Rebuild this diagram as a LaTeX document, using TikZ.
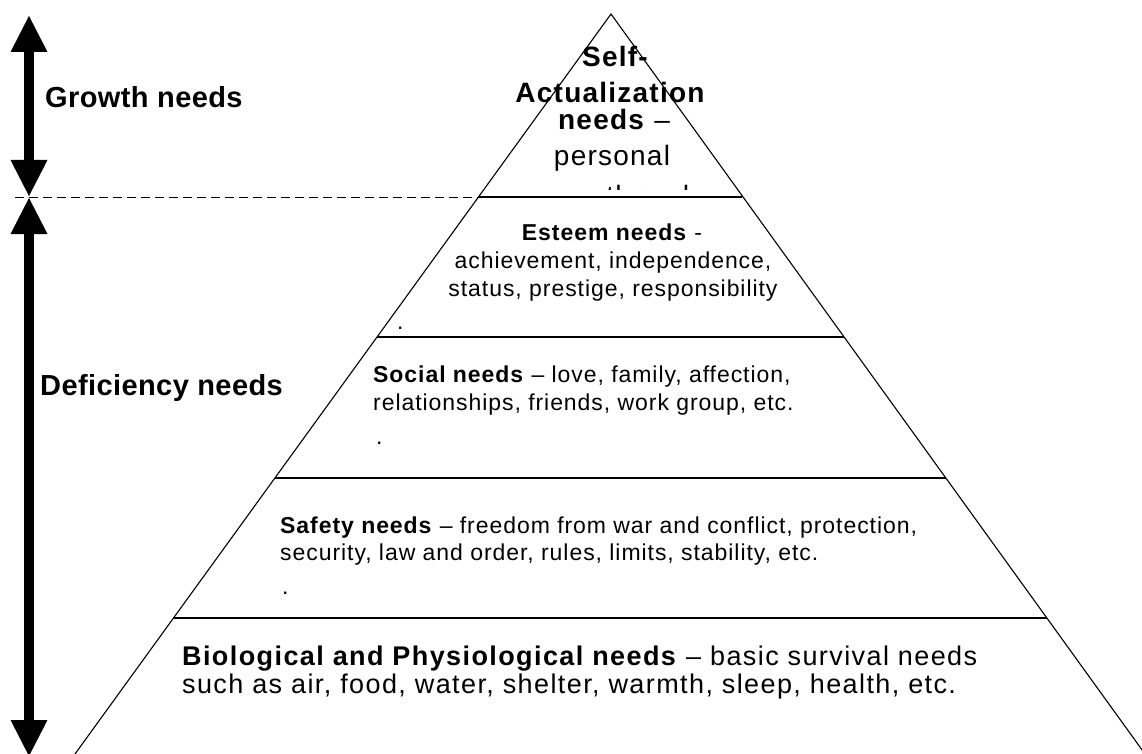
\documentclass[tikz,border=0pt]{standalone}
\usepackage{fontspec}
\setmainfont{Liberation Sans}
% tracked sans families for the different text sizes
\newfontfamily\labelfam[LetterSpace=1.4]{Liberation Sans}
\newfontfamily\topfam[LetterSpace=4.4]{Liberation Sans}
\newfontfamily\midfam[LetterSpace=4.1]{Liberation Sans}
\newfontfamily\biofam[LetterSpace=5.2]{Liberation Sans}
\usetikzlibrary{arrows.meta}
\begin{document}
\begin{tikzpicture}[x=1pt,y=-1pt,
  side/.style={line width=1.1pt, line join=miter},
  tier/.style={line width=1.6pt},
  guide/.style={line width=1pt, dash pattern=on 9pt off 5pt},
  bigarrow/.style={line width=10pt,
    {Triangle[width=34pt,length=37pt]}-{Triangle[width=34pt,length=37pt]}},
  biglabel/.style={font=\labelfam\fontsize{29}{34}\selectfont\bfseries, anchor=base west, inner sep=0pt},
  topline/.style={font=\topfam\fontsize{28}{33}\selectfont, inner sep=0pt, anchor=base},
  midline/.style={font=\midfam\fontsize{23}{27}\selectfont, inner sep=0pt},
  bioline/.style={font=\biofam\fontsize{27}{31}\selectfont, inner sep=0pt, anchor=base west},
]
\useasboundingbox (0,0) rectangle (1142,754);
\fill[white] (0,0) rectangle (1142,754);

% pyramid outline
\coordinate (apex) at (611,14);
\coordinate (bl) at (75,754);
\coordinate (br) at (1145,754);
\draw[side] (bl) -- (apex) -- (br);

% tier boundaries on the two sides
\coordinate (l1) at (478.5,197);  \coordinate (r1) at (742,197);
\coordinate (l2) at (377,337);    \coordinate (r2) at (844,337);
\coordinate (l3) at (275,478);    \coordinate (r3) at (946,478);
\coordinate (l4) at (173.5,618);  \coordinate (r4) at (1047,618);
\draw[tier] (l1) -- (r1);
\draw[tier] (l2) -- (r2);
\draw[tier] (l3) -- (r3);
\draw[tier] (l4) -- (r4);

% growth / deficiency split
\coordinate (dstart) at (15,197);
\draw[guide] (dstart) -- (l1);

\coordinate (gtop) at (29,15);
\coordinate (split) at (29,197);
\coordinate (dbot) at (29,757);
\draw[bigarrow] (gtop) -- (split);
\draw[bigarrow] (split) -- (dbot);

\node[biglabel] (growth) at (45,108) {Growth needs};
\node[biglabel] (deficiency) at (40,395) {Deficiency needs};

% self-actualization
\node[topline] (sa1) at (615,67) {\bfseries Self-};
\node[topline] (sa2) at (610,103) {\bfseries Actualization};
\node[topline] (sa3) at (614,130) {\textbf{needs} –};
\node[topline] (sa4) at (612,166) {personal};
\begin{scope}
  \clip (0,0) rectangle (1142,189);
  \node[topline] (sa5) at (615,205.5) {growth and};
\end{scope}

% esteem
\node[midline, anchor=base] (es1) at (612,240) {\textbf{Esteem needs} -};
\node[midline, anchor=base] (es2) at (613,268) {achievement, independence,};
\node[midline, anchor=base] (es3) at (613,296) {status, prestige, responsibility};
\node[midline, anchor=base west] (es4) at (397,329) {.};

% social
\node[midline, anchor=base west] (so1) at (373,382) {\textbf{Social needs} – love, family, affection,};
\node[midline, anchor=base west] (so2) at (373,410) {relationships, friends, work group, etc.};
\node[midline, anchor=base west] (so3) at (376,444) {.};

% safety
\node[midline, anchor=base west] (sf1) at (280,533) {\textbf{Safety needs} – freedom from war and conflict, protection,};
\node[midline, anchor=base west] (sf2) at (280,560) {security, law and order, rules, limits, stability, etc.};
\node[midline, anchor=base west] (sf3) at (282,594) {.};

% biological
\node[bioline] (bi1) at (182,665) {\textbf{Biological and Physiological needs} – basic survival needs};
\node[bioline] (bi2) at (182,693) {such as air, food, water, shelter, warmth, sleep, health, etc.};
\end{tikzpicture}
\end{document}
